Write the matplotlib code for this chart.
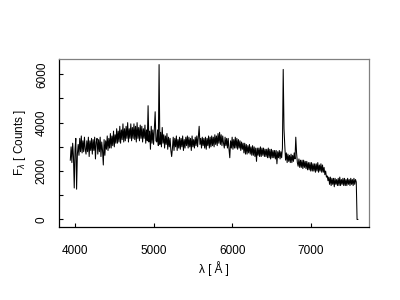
import numpy as np
import matplotlib.pyplot as plt

plt.rcParams['font.family'] = ['Liberation Sans', 'DejaVu Sans']

# spectrum, 10 A sampling from 3940 A
wave_start = 3940
wave_step = 10
flux = [
    2450, 3000, 2350, 3150, 2600, 1300, 2900, 3350, 1250, 2700,
    3100, 2650, 3350, 2800, 3450, 2750, 3250, 2800, 3400, 2900,
    2700, 3250, 2800, 3400, 2600, 3250, 2850, 3350, 2700, 3300,
    2850, 3400, 2500, 3200, 3350, 2700, 3300, 2800, 3400, 2600,
    3200, 2850, 2250, 3300, 2650, 3250, 2900, 3450, 2850, 3350,
    2950, 3550, 2950, 3450, 3050, 3650, 3000, 3500, 3150, 3750,
    3150, 3650, 3200, 3850, 3150, 3700, 3300, 3950, 3200, 3750,
    3250, 3850, 3350, 4000, 3200, 3750, 3350, 3950, 3250, 3800,
    3350, 3950, 3300, 3850, 3200, 4000, 3350, 3800, 3250, 3900,
    3350, 3850, 3200, 3750, 3350, 3900, 3150, 3700, 3250, 4700,
    3200, 3650, 2900, 3850, 3150, 3700, 3100, 3750, 4450, 3250,
    3200, 3700, 3050, 6400, 3100, 3600, 3000, 3800, 3150, 3500,
    2950, 3450, 3100, 3550, 2900, 3400, 3000, 3350, 2850, 2600,
    2950, 3400, 2850, 3350, 3000, 3450, 2850, 3300, 2950, 3400,
    2900, 3350, 3000, 3450, 2850, 3300, 2950, 3400, 3050, 3450,
    2950, 3400, 3000, 3350, 2850, 3450, 3000, 3300, 2950, 3400,
    3050, 3450, 3000, 3400, 3850, 3100, 3350, 2950, 3400, 3050,
    3350, 2950, 3400, 2900, 3350, 3050, 3450, 2950, 3400, 3000,
    3450, 3050, 3400, 3000, 3500, 3100, 3450, 3050, 3550, 3150,
    3600, 3100, 3500, 3050, 3450, 3150, 2950, 3400, 3050, 3350,
    2950, 3350, 2900, 2550, 3250, 2950, 3400, 2900, 3300, 2950,
    3400, 2950, 3350, 2900, 3300, 2950, 3250, 2850, 3200, 2900,
    3150, 2750, 3150, 2700, 3100, 2700, 3050, 2750, 3100, 2700,
    3000, 2650, 3050, 2650, 3000, 2600, 2950, 2400, 2950, 2650,
    2950, 2600, 3000, 2600, 2950, 2650, 2950, 2600, 2900, 2600,
    2900, 2550, 2950, 2550, 2900, 2500, 2900, 2550, 2850, 2550,
    2850, 2500, 2850, 2300, 2800, 2550, 2850, 2500, 2800, 2550,
    2950, 6200, 3750, 3050, 2450, 2750, 2350, 2700, 2400, 2650,
    2350, 2700, 2350, 2650, 2400, 2750, 2500, 3400, 2750, 2350,
    2200, 2500, 2150, 2450, 2150, 2450, 2100, 2450, 2150, 2400,
    2100, 2400, 2050, 2350, 2050, 2350, 2000, 2350, 2000, 2300,
    2000, 2300, 1950, 2300, 2000, 2350, 1950, 2250, 2000, 2300,
    1950, 2250, 1950, 2150, 1850, 2000, 1750, 1800, 1600, 1750,
    1450, 1750, 1400, 1700, 1450, 1700, 1350, 1700, 1450, 1650,
    1400, 1700, 1400, 1750, 1400, 1650, 1450, 1700, 1400, 1700,
    1400, 1650, 1400, 1700, 1450, 1650, 1400, 1700, 1450, 1650,
    1400, 1700, 1450, 1650, 1550, 0, 0,
]
wave = wave_start + wave_step * np.arange(len(flux))

x_ticks = [4000, 5000, 6000, 7000]
y_major = [0, 2000, 4000, 6000]
y_minor = [1000, 3000, 5000]

fig = plt.figure(figsize=(4, 3), dpi=100)
ax = fig.add_axes([0.1475, 0.2443, 0.775, 0.559])
ax.plot(wave, flux, color='k', lw=0.75)

ax.set_xlim(3796, 7742)
ax.set_ylim(-300, 6630)
ax.set_xticks(x_ticks)
ax.set_yticks(y_major)
ax.set_yticks(y_minor, minor=True)
ax.tick_params(axis='both', which='both', direction='in', length=3, width=0.8,
               labelsize=8.5, colors='k')
ax.tick_params(axis='x', pad=13)
ax.tick_params(axis='y', pad=8)
ax.tick_params(axis='x', which='minor', bottom=False)
for lab in ax.get_yticklabels():
    lab.set_rotation(90)
    lab.set_va('center')

for s in ['left', 'bottom']:
    ax.spines[s].set_color('k')
    ax.spines[s].set_linewidth(0.9)
for s in ['top', 'right']:
    ax.spines[s].set_color('0.5')
    ax.spines[s].set_linewidth(0.9)

ax.set_xlabel('λ [ Å ]', fontsize=8.5, labelpad=3)
ax.set_ylabel(r'F$_\lambda$ [ Counts ]', fontsize=8.5, labelpad=6)

plt.savefig('out.png', dpi=100)
